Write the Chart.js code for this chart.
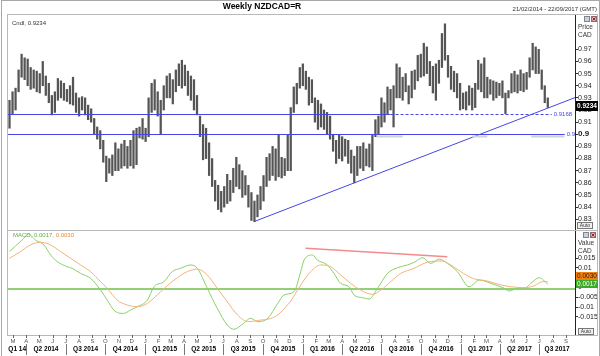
<!DOCTYPE html>
<html><head><meta charset="utf-8">
<script src="https://cdn.jsdelivr.net/npm/chart.js@4/dist/chart.umd.min.js"></script>
<style>
html,body{margin:0;padding:0;background:#fff;width:600px;height:356px;overflow:hidden}
#wrap{position:relative;width:600px;height:356px}
canvas{position:absolute;left:0}
#c1{top:0}
#c2{top:230px}
#frame{position:absolute;left:1px;top:0;width:597px;height:355px;border:1px solid #a8a8a8;box-sizing:content-box;pointer-events:none}
</style></head><body>
<div id="wrap"><canvas id="c1" width="600" height="231"></canvas><canvas id="c2" width="600" height="126"></canvas><div id="frame"></div></div>
<script>
// ---------- DATA ----------
const startDate = [2014, 1, 21];   // first weekly bar (21/02/2014)
const weeklyLows = [
.905,.917,.920,.935,.947,.945,.940,.937,.938,.935,.934,.940,.932,.926,.916,.918,.928,.930,.928,.927,
.925,.924,.918,.915,.920,.916,.912,.910,.900,.896,.888,.877,.861,.868,.866,.870,.870,.872,.874,.872,
.874,.872,.875,.897,.896,.894,.898,.918,.920,.915,.900,.920,.930,.930,.925,.935,.940,.938,.940,.932,
.928,.920,.916,.898,.879,.880,.866,.857,.845,.838,.836,.840,.843,.845,.852,.857,.855,.848,.850,.840,
.829,.828,.832,.838,.845,.857,.862,.866,.862,.865,.864,.866,.870,.870,.918,.925,.938,.940,.937,.924,
.926,.910,.904,.906,.904,.900,.896,.886,.876,.880,.878,.882,.876,.868,.860,.866,.872,.870,.874,.873,
.870,.898,.900,.906,.910,.917,.920,.906,.930,.930,.928,.935,.925,.930,.937,.944,.947,.948,.950,.940,
.934,.928,.942,.955,.961,.947,.937,.935,.930,.920,.921,.920,.924,.920,.922,.937,.935,.930,.930,.933,
.928,.930,.932,.930,.917,.930,.934,.935,.934,.936,.935,.937,.947,.953,.950,.950,.937,.926,.922];
const weeklyHighs = [
.928,.935,.938,.953,.966,.963,.962,.955,.953,.952,.950,.960,.948,.942,.932,.935,.946,.944,.942,.937,
.940,.947,.934,.930,.931,.930,.924,.921,.913,.906,.903,.895,.882,.880,.883,.893,.888,.892,.895,.890,
.895,.903,.905,.906,.913,.905,.930,.942,.945,.935,.928,.940,.948,.950,.945,.953,.958,.961,.957,.952,
.948,.945,.932,.915,.908,.905,.893,.880,.862,.858,.853,.857,.867,.862,.872,.881,.875,.870,.866,.858,
.852,.845,.850,.857,.866,.881,.884,.890,.888,.900,.881,.880,.900,.922,.939,.942,.955,.958,.952,.947,
.945,.930,.928,.925,.920,.918,.915,.900,.895,.900,.898,.896,.895,.887,.882,.890,.890,.893,.888,.892,
.900,.912,.915,.930,.926,.939,.937,.940,.958,.955,.947,.950,.940,.952,.953,.965,.966,.975,.972,.960,
.956,.958,.961,.983,.991,.965,.956,.952,.950,.942,.934,.935,.940,.938,.942,.961,.958,.963,.947,.945,
.944,.943,.942,.944,.934,.936,.950,.952,.949,.953,.950,.951,.963,.975,.972,.970,.953,.940,.930];
const lastClose = 0.9234;
const priceTicks = [0.97,0.96,0.95,0.94,0.93,0.92,0.91,0.9,0.89,0.88,0.87,0.86,0.85,0.84,0.83];
const levelPrices = [0.9168, 0.9];
const trendWeeks = [80.8, 187.3];
const trendPrices = [0.828, 0.9305];

const macdWeeks = [0,2,4.7,6.3,8.6,11.4,13.6,15.8,19.1,20.7,23.5,26.8,30.1,32.3,34.5,36.1,37.7,40,42.3,45.6,
47.8,51.1,53.8,56.6,59.9,62.1,65.4,68.7,72,74.2,77.4,79.7,82.1,85.4,88.7,90.8,94.1,96.3,97.4,100.2,
101.8,105.1,107.3,109.5,112.3,113.9,116.7,118.9,121.7,125,128.3,131.6,134,136.6,139.3,142.1,144.8,148.1,152,155.3,
159.2,163.6,165.2,168,170.7,172.4,175.2,178];
const macdValues = [0.0183,0.0212,0.0251,0.0273,0.0242,0.0217,0.0166,0.0132,0.0106,0.0098,0.0072,0.0047,-0.0013,-0.0064,-0.0115,-0.013,-0.0132,-0.0115,-0.0098,-0.0064,
0.0004,0.003,0.0081,0.0098,0.0115,0.0098,-0.0004,-0.0106,-0.0191,-0.0213,-0.0183,-0.0157,-0.0174,-0.0157,-0.0081,-0.0038,-0.0021,0.0081,0.014,0.0166,
0.014,0.0115,0.0072,0.0021,0.0004,-0.0038,-0.0052,-0.0059,-0.0004,0.0072,0.0101,0.0115,0.013,0.0152,0.0123,0.0145,0.0123,0.0081,0.0004,0.0038,
0.0021,-0.0004,-0.0018,-0.0004,-0.0001,0.0021,0.005,0.0017];
const signalWeeks = [0,3.6,6.9,10.3,13.6,16.9,20.2,23.5,26.8,30.1,32.3,35.6,38.9,42.3,45.6,50,54.4,58.8,62.1,65.4,
68.7,72,75.4,78.8,83.1,85.4,88.7,91.9,93,96.3,99.6,102.9,106.2,109.5,112.8,116.1,120,122.8,126.1,129.4,
133.8,138.2,143.2,145.9,149.2,153.1,158.1,162.5,165.8,170.2,173.5,176.3,178];
const signalValues = [0.0149,0.0183,0.0217,0.0231,0.0217,0.0183,0.0149,0.0115,0.0081,0.003,-0.0004,-0.0064,-0.0089,-0.0098,-0.0081,-0.0021,0.0038,0.0081,0.0094,0.0064,
-0.0004,-0.0072,-0.014,-0.0174,-0.0166,-0.0162,-0.014,-0.0089,-0.0069,0.0013,0.0081,0.0115,0.0106,0.0064,0.0021,-0.0013,-0.0035,-0.0013,0.003,0.0072,
0.0098,0.0129,0.0135,0.0115,0.0081,0.0047,0.0033,0.0013,0.0004,-0.0001,0.0009,0.003,0.003];
const divergenceWeeks = [97.9, 144.8];
const divergenceValues = [0.0200, 0.0157];
const macdLast = 0.0017, signalLast = 0.0030;
const macdTicks = [0.015,0.01,0.005,0,-0.005,-0.01,-0.015];
const monthLetters = ['J','F','M','A','M','J','J','A','S','O','N','D'];
const quarterLabels = ['Q1 14','Q2 2014','Q3 2014','Q4 2014','Q1 2015','Q2 2015','Q3 2015','Q4 2015',
 'Q1 2016','Q2 2016','Q3 2016','Q4 2016','Q1 2017','Q2 2017','Q3 2017'];

// ---------- HELPERS ----------
const F = '"Liberation Sans", Arial, sans-serif';
const T0 = Date.UTC(startDate[0], startDate[1], startDate[2]);
const weekOf = (y, m, d) => (Date.UTC(y, m, d) - T0) / 864e5 / 7;
const X_MIN = -0.5, X_MAX = weekOf(2017, 8, 22);
function T(ctx, s, x, y, size, color, align, weight) {
  ctx.save(); ctx.font = (weight || 'normal') + ' ' + size + 'px ' + F;
  ctx.fillStyle = color; ctx.textAlign = align || 'left'; ctx.textBaseline = 'middle';
  ctx.fillText(s, x, y); ctx.restore();
}
function hline(ctx, x1, x2, y, color, w, dash) {
  ctx.save(); ctx.strokeStyle = color; ctx.lineWidth = w; ctx.setLineDash(dash || []);
  ctx.beginPath(); ctx.moveTo(x1, y); ctx.lineTo(x2, y); ctx.stroke(); ctx.restore();
}
function icons(ctx, x, y) {
  ctx.save();
  ctx.fillStyle = '#c9cfdb'; ctx.fillRect(x, y, 6, 6); ctx.strokeStyle = '#7d8594'; ctx.lineWidth = 1; ctx.strokeRect(x + 0.5, y + 0.5, 5, 5);
  ctx.fillStyle = '#d9b5b5'; ctx.fillRect(x + 7, y, 6, 6); ctx.strokeStyle = '#8a6d6d'; ctx.strokeRect(x + 7.5, y + 0.5, 5, 5);
  ctx.strokeStyle = '#b02020'; ctx.beginPath(); ctx.moveTo(x + 8.5, y + 1.5); ctx.lineTo(x + 11.5, y + 4.5); ctx.moveTo(x + 11.5, y + 1.5); ctx.lineTo(x + 8.5, y + 4.5); ctx.stroke();
  ctx.restore();
}
function autoBtn(ctx, x, y) {
  ctx.save(); ctx.fillStyle = '#f0f0f0'; ctx.fillRect(x, y, 16, 7);
  ctx.strokeStyle = '#777'; ctx.lineWidth = 1; ctx.strokeRect(x + 0.5, y + 0.5, 15, 6); ctx.restore();
  T(ctx, 'Auto', x + 8, y + 3.8, 5, '#333', 'center');
}
const isNine = c => !!(c && c.tick && Math.abs(c.tick.value - 0.9) < 1e-6);
const yScaleCommon = (ticks) => ({
  position: 'right',
  afterFit: s => { s.width = 23; s.paddingTop = 0; s.paddingBottom = 0; },
  afterBuildTicks: s => { s.ticks = ticks.map(v => ({ value: v })); },
  grid: { drawOnChartArea: false, drawTicks: true, tickLength: 3, color: '#333' },
  border: { display: true, color: '#222', width: 1 }
});

// ---------- PRICE PANEL ----------
const bars = weeklyLows.map((lo, i) => ({ x: i, y: [lo, weeklyHighs[i]] }));
const trend = trendWeeks.map((w, i) => ({ x: w, y: trendPrices[i] }));
const blue = '#4646e6';
const deco1 = {
  id: 'deco1',
  afterDraw(chart) {
    const { ctx, chartArea: a, scales: { x, y } } = chart;
    ctx.save();
    ctx.strokeStyle = '#b8b8b8'; ctx.lineWidth = 1; ctx.strokeRect(7.5, 14.5, 590, 216);
    ctx.restore();
    T(ctx, 'Weekly NZDCAD=R', 262, 7, 8.5, '#000', 'center', 'bold');
    T(ctx, '21/02/2014 - 22/09/2017 (GMT)', 597, 9.5, 6, '#333', 'right');
    T(ctx, 'Cndl, ' + lastClose.toFixed(4), 12, 23.5, 6, '#333');
    const yA = Math.round(y.getPixelForValue(levelPrices[0])) + 0.5;
    const xDash = x.getPixelForValue(126), xEndA = x.getPixelForValue(179.3);
    hline(ctx, a.left, xDash, yA, blue, 1);
    hline(ctx, xDash, xEndA, yA, blue, 1, [3, 2]);
    T(ctx, levelPrices[0].toFixed(4), xEndA + 2, yA, 6, blue);
    const yB = Math.round(y.getPixelForValue(levelPrices[1])) + 0.5;
    [[121.5, 130], [153, 158], [172.5, 183.5]].forEach(s =>
      hline(ctx, x.getPixelForValue(s[0]), x.getPixelForValue(s[1]), yB + 2, '#d2d2d2', 2));
    const xEndB = x.getPixelForValue(183.6);
    hline(ctx, a.left, xEndB, yB, blue, 1);
    T(ctx, '0.9', xEndB + 2, yB, 6, blue);
    const yc = y.getPixelForValue(lastClose);
    ctx.fillStyle = '#000'; ctx.fillRect(576, Math.round(yc) - 5, 22, 10);
    T(ctx, lastClose.toFixed(4), 577, yc, 6.5, '#fff', 'left', 'bold');
    T(ctx, 'Price', 578, 27, 6.5, '#333');
    T(ctx, 'CAD', 578, 35.5, 6.5, '#333');
    icons(ctx, 584, 16);
    autoBtn(ctx, 577, 222);
  }
};
new Chart(document.getElementById('c1'), {
  type: 'bar',
  data: { datasets: [
    { type: 'line', data: trend, borderColor: blue, borderWidth: 1, pointRadius: 0, order: 1 },
    { type: 'bar', data: bars, backgroundColor: '#555555', barThickness: 1.6, grouped: false, order: 2 }
  ] },
  options: {
    responsive: false, animation: false, devicePixelRatio: 1,
    layout: { padding: { left: 8, top: 14, right: 2, bottom: 1 } },
    plugins: { legend: { display: false }, tooltip: { enabled: false } },
    scales: {
      x: { type: 'linear', min: X_MIN, max: X_MAX, offset: false, display: false },
      y: Object.assign(yScaleCommon(priceTicks), {
        min: 0.82115, max: 0.99908,
        ticks: { padding: 0, color: '#222',
          font: c => ({ family: F, size: isNine(c) ? 8 : 7, weight: isNine(c) ? 'bold' : 'normal' }),
          callback: v => Math.abs(v - 0.9) < 1e-6 ? '0.9' : v.toFixed(2) }
      })
    }
  },
  plugins: [deco1]
});

// ---------- MACD PANEL ----------
const green = '#8bcf68', orange = '#f5b27a';
const deco2 = {
  id: 'deco2',
  beforeDatasetsDraw(chart) {
    const { ctx, chartArea: a, scales: { y } } = chart;
    hline(ctx, a.left, a.right, Math.round(y.getPixelForValue(0)) + 1, '#93cf76', 2);
  },
  afterDraw(chart) {
    const { ctx, chartArea: a, scales: { x, y } } = chart;
    ctx.save();
    ctx.strokeStyle = '#b8b8b8'; ctx.lineWidth = 1; ctx.strokeRect(7.5, 0.5, 590, 105);
    ctx.restore();
    ctx.save(); ctx.font = '6px ' + F; ctx.textBaseline = 'middle';
    const s1 = 'MACD, ' + macdLast.toFixed(4) + ', ';
    ctx.fillStyle = '#5fae3e'; ctx.fillText(s1, 13, 5);
    ctx.fillStyle = '#ee8a3a'; ctx.fillText(signalLast.toFixed(4), 13 + ctx.measureText(s1).width, 5);
    ctx.restore();
    const yg = y.getPixelForValue(macdLast);
    const yo = Math.min(y.getPixelForValue(signalLast), yg - 8);
    ctx.fillStyle = '#f08010'; ctx.fillRect(576, Math.round(yo) - 4, 22, 8);
    T(ctx, signalLast.toFixed(4), 577, yo, 6.5, '#222');
    ctx.fillStyle = '#3ea82a'; ctx.fillRect(576, Math.round(yg) - 4, 22, 8);
    T(ctx, macdLast.toFixed(4), 577, yg, 6.5, '#fff');
    T(ctx, 'Value', 578, 13.5, 6.5, '#333');
    T(ctx, 'CAD', 578, 21, 6.5, '#333');
    icons(ctx, 583, 2);
    autoBtn(ctx, 578, 98);
    ctx.save(); ctx.strokeStyle = '#666'; ctx.lineWidth = 1;
    for (let yr = 2014; yr <= 2017; yr++) {
      for (let m = 0; m < 12; m++) {
        const w = weekOf(yr, m, 1);
        if (w < X_MIN || w > X_MAX) continue;
        const px = x.getPixelForValue(w);
        ctx.beginPath(); ctx.moveTo(Math.round(px) + 0.5, 105); ctx.lineTo(Math.round(px) + 0.5, 108); ctx.stroke();
        T(ctx, monthLetters[m], px, 111.5, 6, '#555', 'center');
      }
    }
    const bounds = [];
    for (let yr = 2014; yr <= 2017; yr++) for (let q = 0; q < 4; q++) {
      const w = weekOf(yr, q * 3, 1);
      if (w > X_MIN && w < X_MAX) bounds.push(x.getPixelForValue(w));
    }
    const edges = [a.left].concat(bounds, [a.right]);
    ctx.strokeStyle = '#777';
    bounds.forEach(px => { ctx.beginPath(); ctx.moveTo(Math.round(px) + 0.5, 114); ctx.lineTo(Math.round(px) + 0.5, 125); ctx.stroke(); });
    ctx.restore();
    quarterLabels.forEach((lab, i) => {
      T(ctx, lab, (edges[i] + edges[i + 1]) / 2, 119.5, 6.5, '#000', 'center', 'bold');
    });
  }
};
new Chart(document.getElementById('c2'), {
  type: 'line',
  data: { datasets: [
    { data: divergenceWeeks.map((w, i) => ({ x: w, y: divergenceValues[i] })), borderColor: '#f28b8b', borderWidth: 1.5, pointRadius: 0 },
    { data: signalWeeks.map((w, i) => ({ x: w, y: signalValues[i] })), borderColor: orange, borderWidth: 1, pointRadius: 0, cubicInterpolationMode: 'monotone' },
    { data: macdWeeks.map((w, i) => ({ x: w, y: macdValues[i] })), borderColor: green, borderWidth: 1, pointRadius: 0, cubicInterpolationMode: 'monotone' }
  ] },
  options: {
    responsive: false, animation: false, devicePixelRatio: 1,
    layout: { padding: { left: 8, top: 0, right: 2, bottom: 21 } },
    plugins: { legend: { display: false }, tooltip: { enabled: false } },
    scales: {
      x: { type: 'linear', min: X_MIN, max: X_MAX, display: false },
      y: Object.assign(yScaleCommon(macdTicks), {
        min: -0.02423, max: 0.02934,
        ticks: { padding: 0, color: '#222', font: { family: F, size: 7 }, callback: v => String(v) }
      })
    }
  },
  plugins: [deco2]
});
</script>
</body></html>
